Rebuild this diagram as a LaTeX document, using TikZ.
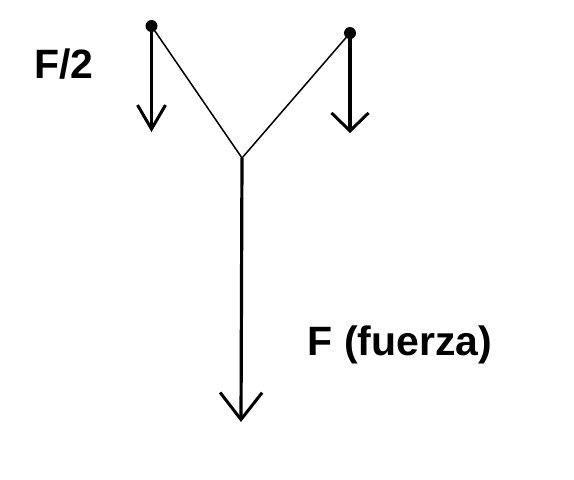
\documentclass[tikz,border=0pt]{standalone}
\usepackage{fontspec}
\setmainfont{Liberation Sans}
\usetikzlibrary{arrows.meta}
\begin{document}
\begin{tikzpicture}[x=1pt,y=-1pt,
  dot/.style={circle,fill=black,inner sep=0pt,minimum size=12pt},
  force/.style={line width=3.2pt},
  rod/.style={line width=1.5pt},
  lbl/.style={font=\bfseries\fontsize{41}{46}\selectfont,inner sep=0pt,anchor=base}]
\useasboundingbox[fill=white] (0,0) rectangle (574,480);
\node[dot] (L) at (151.5,26) {};
\node[dot] (R) at (350,33) {};
\coordinate (J) at (242,158);
\coordinate (LT) at (151.5,132);
\coordinate (RT) at (350,133);
\coordinate (MT) at (241,422);
\draw[rod] (L.center) -- (J) -- (R.center);
\draw[force,-{Straight Barb[length=24pt,width=28pt,line width=3pt]}] (L.center) -- (LT);
\draw[force,-{Straight Barb[length=18pt,width=37pt,line width=3pt]}] (R.center) -- (RT);
\draw[force,-{Straight Barb[length=27pt,width=42pt,line width=3pt]}] (J) -- (MT);
\node[lbl] (f2) at (64,78) {F/2};
\node[lbl] (f) at (400,355) {F (fuerza)};
\end{tikzpicture}
\end{document}
